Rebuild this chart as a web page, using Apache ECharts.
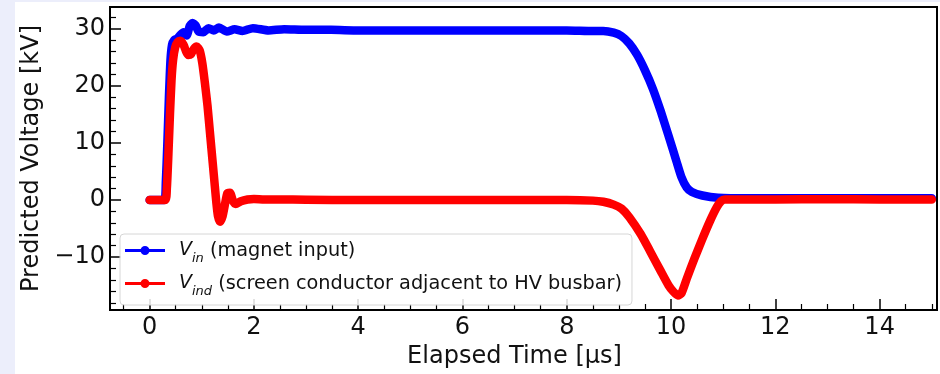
<!DOCTYPE html>
<html>
<head>
<meta charset="utf-8">
<script src="https://cdn.jsdelivr.net/npm/echarts@6/dist/echarts.min.js"></script>
<style>
  html, body { margin: 0; padding: 0; }
  body { width: 940px; height: 374px; background: #eceefb; position: relative; overflow: hidden; }
  #panel { position: absolute; left: 15px; top: 2px; width: 925px; height: 372px; background: #ffffff; }
  #chart { position: absolute; left: 0; top: 0; width: 940px; height: 374px; }
</style>
</head>
<body>
<div id="panel"></div>
<div id="chart"></div>
<script>
// ---- data ----
const timeIn = [0, 0.28, 0.31, 0.34, 0.37, 0.40, 0.43, 0.47, 0.53, 0.59, 0.65, 0.71, 0.77, 0.82, 0.88, 0.94, 1.03, 1.13, 1.23, 1.33, 1.48, 1.63, 1.78, 1.98, 2.28, 2.58, 2.98, 3.48, 4.0, 5.0, 6.0, 7.0, 8.0, 8.5, 8.7, 8.9, 9.05, 9.2, 9.35, 9.5, 9.65, 9.8, 9.95, 10.1, 10.2, 10.3, 10.4, 10.6, 10.9, 11.5, 12, 13, 14, 15];
const vIn    = [0, 0,    3,    10,   18,   24.5, 27.2, 28.0, 28.3, 28.9, 29.4, 28.8, 30.5, 31.0, 30.6, 29.5, 29.4, 30.1, 29.7, 30.2, 29.5, 29.9, 29.6, 30.1, 29.7, 29.9, 29.8, 29.8, 29.7, 29.7, 29.7, 29.7, 29.7, 29.6, 29.6, 29.3, 28.7, 27.4, 25.4, 22.7, 19.5, 15.6, 11.3, 6.9,  4.0,  2.2,  1.4,  0.8,  0.4,  0.3, 0.3, 0.3, 0.3, 0.3];

const timeInd = [0, 0.3, 0.33, 0.36, 0.39, 0.42, 0.45, 0.49, 0.54, 0.59, 0.65, 0.70, 0.74, 0.79, 0.85, 0.90, 0.96, 1.01, 1.06, 1.11, 1.16, 1.21, 1.25, 1.28, 1.31, 1.35, 1.40, 1.45, 1.49, 1.54, 1.60, 1.65, 1.75, 1.88, 2.0, 2.2, 2.5, 3.0, 4.0, 5.0, 6.0, 7.0, 8.0, 8.5, 8.7, 8.9, 9.05, 9.2, 9.42, 9.6, 9.8, 9.95, 10.05, 10.13, 10.2, 10.3, 10.45, 10.6, 10.75, 10.88, 10.96, 11.03, 11.3, 12, 13, 14, 15];
const vInd    = [0, 0,   2,    8,    15,   21,   24.5, 26.7, 27.7, 27.9, 27.2, 26.0, 25.4, 25.5, 26.5, 26.9, 26.2, 24.0, 20.5, 16.5, 11.5, 6.5,  2.5,  -0.5, -2.8, -3.8, -2.8, -0.5, 1.2,  1.3,  -0.2, -0.7, -0.2, 0.1,  0.2, 0.1, 0.1, 0.05, 0,  0,   0,   0,   0,   -0.1, -0.3, -0.8, -1.5, -3.0, -6.0, -9.0, -12.4, -14.9, -16.1, -16.7, -16.3, -13.8, -10.2, -6.8, -3.6, -1.2, -0.2, 0.1, 0.1, 0.1, 0.15, 0.1, 0.1];

const xMajorTicks = [0, 2, 4, 6, 8, 10, 12, 14];
const xMinorTicks = [-0.5, 0.5, 1, 1.5, 2.5, 3, 3.5, 4.5, 5, 5.5, 6.5, 7, 7.5, 8.5, 9, 9.5, 10.5, 11, 11.5, 12.5, 13, 13.5, 14.5, 15];
const yMajorTicks = [-10, 0, 10, 20, 30];
const yMinorTicks = [-18, -16, -14, -12, -8, -6, -4, -2, 2, 4, 6, 8, 12, 14, 16, 18, 22, 24, 26, 28, 32];

const seriesNames = ['Vin', 'Vind'];
const legendLabels = {
  Vin: '{i|V}{s|in}{t| (magnet input)}',
  Vind: '{i|V}{s|ind}{t| (screen conductor adjacent to HV busbar)}'
};

// ---- chart ----
const FONT = 'DejaVu Sans';
const X_MIN = -0.76, X_MAX = 15.1, Y_MIN = -19.25, Y_MAX = 33.8;
const pairs = (xs, ys) => xs.map((x, i) => [x, ys[i]]);
const minus = v => String(v).replace('-', '\u2212');

const chart = echarts.init(document.getElementById('chart'), null, { renderer: 'canvas' });
const baseX = { type: 'value', min: X_MIN, max: X_MAX, splitLine: { show: false } };
const baseY = { type: 'value', min: Y_MIN, max: Y_MAX, splitLine: { show: false } };

chart.setOption({
  backgroundColor: 'transparent',
  animation: false,
  grid: { left: 110, top: 7, width: 827, height: 306, show: true, borderColor: '#000', borderWidth: 2, backgroundColor: 'transparent' },
  legend: {
    orient: 'vertical', left: 120, top: 234,
    data: seriesNames,
    itemWidth: 40, itemHeight: 9, itemGap: 9,
    icon: 'path://M0,3h40v3H0z M24.5,4.5A4.5,4.5 0 1,1 15.5,4.5A4.5,4.5 0 1,1 24.5,4.5Z',
    padding: [7, 10, 7, 5],
    backgroundColor: 'rgba(255,255,255,0.85)', borderColor: '#d6d6d6', borderWidth: 1, borderRadius: 4,
    formatter: name => legendLabels[name],
    textStyle: {
      padding: [0, 0, 0, 9],
      rich: {
        i: { fontFamily: FONT, fontSize: 19, fontStyle: 'italic', color: '#111', lineHeight: 23 },
        s: { fontFamily: FONT, fontSize: 13, fontStyle: 'italic', color: '#111', lineHeight: 13, verticalAlign: 'bottom', padding: [0, 0, -3, 0] },
        t: { fontFamily: FONT, fontSize: 19.3, color: '#111', lineHeight: 23 }
      }
    }
  },
  xAxis: [
    Object.assign({}, baseX, {
      position: 'bottom',
      name: 'Elapsed Time [\u00b5s]', nameLocation: 'middle', nameGap: 35,
      nameTextStyle: { fontFamily: FONT, fontSize: 24, color: '#111', padding: [0, 18, 0, 0] },
      axisLine: { show: true, onZero: false, lineStyle: { color: '#000', width: 2 } },
      axisTick: { show: true, inside: true, length: 11, customValues: xMajorTicks, lineStyle: { color: '#000', width: 1.5 } },
      axisLabel: { show: true, customValues: xMajorTicks, margin: 6, fontFamily: FONT, fontSize: 24, color: '#111' }
    }),
    Object.assign({}, baseX, {
      position: 'bottom',
      axisLine: { show: false, onZero: false },
      axisTick: { show: true, inside: true, length: 6, customValues: xMinorTicks, lineStyle: { color: '#000', width: 1.2 } },
      axisLabel: { show: false }
    })
  ],
  yAxis: [
    Object.assign({}, baseY, {
      position: 'left',
      name: 'Predicted Voltage [kV]', nameLocation: 'middle', nameGap: 60,
      nameTextStyle: { fontFamily: FONT, fontSize: 24, color: '#111' },
      axisLine: { show: true, onZero: false, lineStyle: { color: '#000', width: 2 } },
      axisTick: { show: true, inside: true, length: 11, customValues: yMajorTicks, lineStyle: { color: '#000', width: 1.5 } },
      axisLabel: { show: true, customValues: yMajorTicks, margin: 5, fontFamily: FONT, fontSize: 24, color: '#111', formatter: v => minus(v) }
    }),
    Object.assign({}, baseY, {
      position: 'left',
      axisLine: { show: false, onZero: false },
      axisTick: { show: true, inside: true, length: 6, customValues: yMinorTicks, lineStyle: { color: '#000', width: 1.2 } },
      axisLabel: { show: false }
    })
  ],
  series: [
    {
      name: 'Vin', type: 'line', xAxisIndex: 0, yAxisIndex: 0,
      data: pairs(timeIn, vIn), showSymbol: false, symbol: 'circle', symbolSize: 8,
      smooth: 0.2, color: '#0000ff',
      lineStyle: { width: 8.5, color: '#0000ff', cap: 'round', join: 'round' }
    },
    {
      name: 'Vind', type: 'line', xAxisIndex: 0, yAxisIndex: 0,
      data: pairs(timeInd, vInd), showSymbol: false, symbol: 'circle', symbolSize: 8,
      smooth: 0.2, color: '#ff0000',
      lineStyle: { width: 8.5, color: '#ff0000', cap: 'round', join: 'round' }
    }
  ]
});
</script>
</body>
</html>
